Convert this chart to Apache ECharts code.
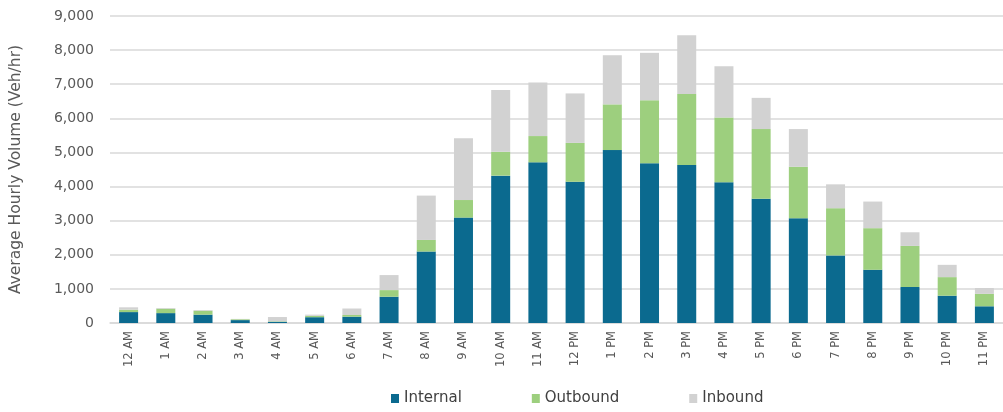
<!DOCTYPE html>
<html>
<head>
<meta charset="utf-8">
<script src="https://cdn.jsdelivr.net/npm/echarts@6/dist/echarts.min.js"></script>
<style>
html,body{margin:0;padding:0;background:#fff;}
#chart{width:1003px;height:412px;}
</style>
</head>
<body>
<div id="chart"></div>
<script>
const categories = ['12 AM','1 AM','2 AM','3 AM','4 AM','5 AM','6 AM','7 AM','8 AM','9 AM','10 AM','11 AM','12 PM','1 PM','2 PM','3 PM','4 PM','5 PM','6 PM','7 PM','8 PM','9 PM','10 PM','11 PM'];
const internal = [320, 290, 245, 85, 35, 170, 185, 770, 2095, 3090, 4320, 4710, 4140, 5070, 4680, 4630, 4125, 3640, 3070, 1980, 1560, 1055, 800, 490];
const outbound = [70, 130, 115, 25, 15, 40, 50, 195, 340, 515, 700, 770, 1140, 1340, 1850, 2080, 1900, 2045, 1510, 1385, 1220, 1205, 545, 365];
const inbound  = [70, 20, 20, 10, 125, 35, 190, 440, 1300, 1810, 1810, 1570, 1450, 1440, 1390, 1725, 1500, 915, 1105, 700, 780, 400, 360, 170];
const yTicks = [0, 1000, 2000, 3000, 4000, 5000, 6000, 7000, 8000, 9000];

const chart = echarts.init(document.getElementById('chart'));
const font = 'DejaVu Sans';
chart.setOption({
  animation: false,
  grid: {left: 108, top: 16, bottom: 89, width: 905},
  legend: {
    bottom: 1, left: 386, itemWidth: 8, itemHeight: 9, itemGap: 70,
    icon: 'rect',
    textStyle: {fontFamily: font, fontSize: 15, color: '#404040'},
    data: ['Internal','Outbound','Inbound']
  },
  xAxis: {
    type: 'category', data: categories,
    axisTick: {show: false},
    axisLine: {lineStyle: {color: '#d9d9d9', width: 1.5}},
    axisLabel: {rotate: 90, fontFamily: font, fontSize: 11.5, color: '#595959', margin: 8}
  },
  yAxis: {
    type: 'value', min: yTicks[0], max: yTicks[yTicks.length-1], interval: 1000,
    name: 'Average Hourly Volume (Veh/hr)', nameLocation: 'middle', nameGap: 86,
    nameTextStyle: {fontFamily: font, fontSize: 15.5, color: '#595959'},
    axisLabel: {fontFamily: font, fontSize: 14, color: '#595959', margin: 16,
      formatter: v => v.toLocaleString('en-US')},
    splitLine: {lineStyle: {color: '#d9d9d9', width: 1.5}},
    axisLine: {show: false}, axisTick: {show: false}
  },
  series: [
    {name: 'Internal', type: 'bar', stack: 't', data: internal, barWidth: 19, itemStyle: {color: '#0b6a8f'}},
    {name: 'Outbound', type: 'bar', stack: 't', data: outbound, itemStyle: {color: '#9dcf7e'}},
    {name: 'Inbound', type: 'bar', stack: 't', data: inbound, itemStyle: {color: '#d2d2d2'}}
  ]
});
</script>
</body>
</html>
